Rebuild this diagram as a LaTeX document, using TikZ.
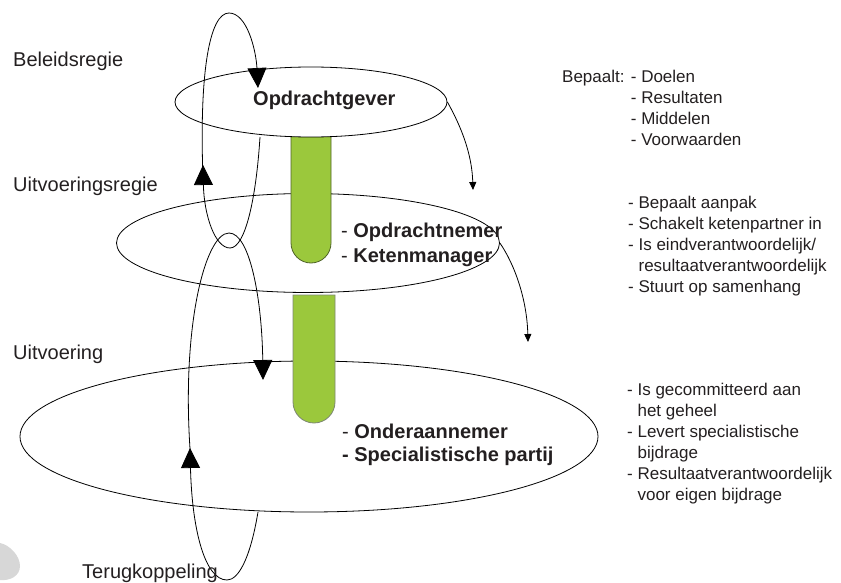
\documentclass[tikz,border=0pt]{standalone}
\usepackage{fontspec}
\setmainfont{Liberation Sans}
\usetikzlibrary{shapes.geometric,arrows.meta}
\definecolor{barfill}{RGB}{155,200,60}
\definecolor{barline}{RGB}{80,100,40}
\definecolor{barlinegrey}{RGB}{125,135,115}
\definecolor{ink}{RGB}{35,31,32}
\definecolor{smudge}{RGB}{215,215,215}

\begin{document}
\begin{tikzpicture}[x=1pt,y=-1pt,
  level/.style={draw=black,line width=0.8pt,ellipse,inner sep=0pt},
  bar/.style={fill=barfill,draw=barline,line width=0.8pt},
  loop/.style={line width=0.8pt,-{Triangle[width=19pt,length=20pt]}},
  down/.style={line width=0.8pt,-{Triangle[width=7pt,length=8pt]}},
  lbl/.style={anchor=base west,inner sep=0pt,font=\fontsize{20}{24}\selectfont,text=ink},
  role/.style={anchor=base west,inner sep=0pt,font=\fontsize{20}{24}\selectfont\bfseries,text=ink},
  note/.style={anchor=base west,inner sep=0pt,font=\fontsize{17}{21}\selectfont,text=ink}]
\useasboundingbox (0,0) rectangle (841,583);

% faint smudge in the lower left corner
\fill[smudge] (0,543) .. controls (10,545) and (20,556) .. (20,566)
  .. controls (20,576) and (10,581) .. (0,580) -- cycle;

% the three levels
\node[level,minimum width=383pt,minimum height=99pt] (e2) at (308,243) {};
\node[level,minimum width=578pt,minimum height=151pt] (e3) at (309,436.5) {};

% green bars linking the levels
\path[bar] (291,120) -- (291,243) arc[start angle=180,end angle=0,radius=20]
  -- (331,120) -- cycle;
\path[bar,draw=barlinegrey] (293,295) -- (293,402) arc[start angle=180,end angle=0,radius=21]
  -- (335,295) -- cycle;

\node[level,fill=white,minimum width=272pt,minimum height=70pt] (e1) at (311,102) {};

% free ends of the feedback loops
\coordinate (a1s) at (203,178);
\coordinate (a1e) at (258,88);
\coordinate (a2s) at (260,137);
\coordinate (a2e) at (203,165);
\coordinate (b1s) at (191,462);
\coordinate (b1e) at (263,380);
\coordinate (b2s) at (258,512);
\coordinate (b2e) at (190,448);
\coordinate (d1) at (473,190);
\coordinate (d2) at (528,342);

% steering loop around the top level
\draw[loop] (a1s) .. controls (199,70) and (210,13) .. (229,13)
  .. controls (247,13) and (256,50) .. (a1e);
\draw[loop] (a2s) .. controls (256,200) and (245,248) .. (230,248)
  .. controls (215,248) and (204,215) .. (a2e);

% feedback loop around the lower levels
\draw[loop] (b1s) .. controls (180,330) and (205,233) .. (229,233)
  .. controls (250,233) and (262,300) .. (b1e);
\draw[loop] (b2s) .. controls (250,560) and (238,580) .. (227,580)
  .. controls (205,580) and (192,530) .. (b2e);

% hand-over arrows on the right
\draw[down] (e1.east) .. controls (462,128) and (472,155) .. (d1);
\draw[down] (e2.east) .. controls (515,265) and (527,300) .. (d2);

% roles
\node[role] (og) at (253,106) {Opdrachtgever};
\node[role] (on) at (341,237) {{\mdseries-} Opdrachtnemer};
\node[role] (km) at (341,262) {{\mdseries-} Ketenmanager};
\node[role] (oa) at (342,438) {{\mdseries-} Onderaannemer};
\node[role] (sp) at (342,461) {- Specialistische partij};

% level names
\node[lbl] (lb) at (13,67) {Beleidsregie};
\node[lbl] (lur) at (13,192) {Uitvoeringsregie};
\node[lbl] (lu) at (13,359) {Uitvoering};
\node[lbl] (lt) at (82,578) {Terugkoppeling};

% responsibilities per level
\node[note] (n11) at (562,83) {Bepaalt: - Doelen};
\node[note] (n12) at (562,104) {\phantom{Bepaalt: }- Resultaten};
\node[note] (n13) at (562,125) {\phantom{Bepaalt: }- Middelen};
\node[note] (n14) at (562,146) {\phantom{Bepaalt: }- Voorwaarden};

\node[note] (n21) at (628,208) {- Bepaalt aanpak};
\node[note] (n22) at (628,229) {- Schakelt ketenpartner in};
\node[note] (n23) at (628,250) {- Is eindverantwoordelijk/};
\node[note] (n24) at (628,271) {\phantom{- }resultaatverantwoordelijk};
\node[note] (n25) at (628,292) {- Stuurt op samenhang};

\node[note] (n31) at (627,395) {- Is gecommitteerd aan};
\node[note] (n32) at (627,416) {\phantom{- }het geheel};
\node[note] (n33) at (627,437) {- Levert specialistische};
\node[note] (n34) at (627,458) {\phantom{- }bijdrage};
\node[note] (n35) at (627,479) {- Resultaatverantwoordelijk};
\node[note] (n36) at (627,500) {\phantom{- }voor eigen bijdrage};
\end{tikzpicture}
\end{document}
